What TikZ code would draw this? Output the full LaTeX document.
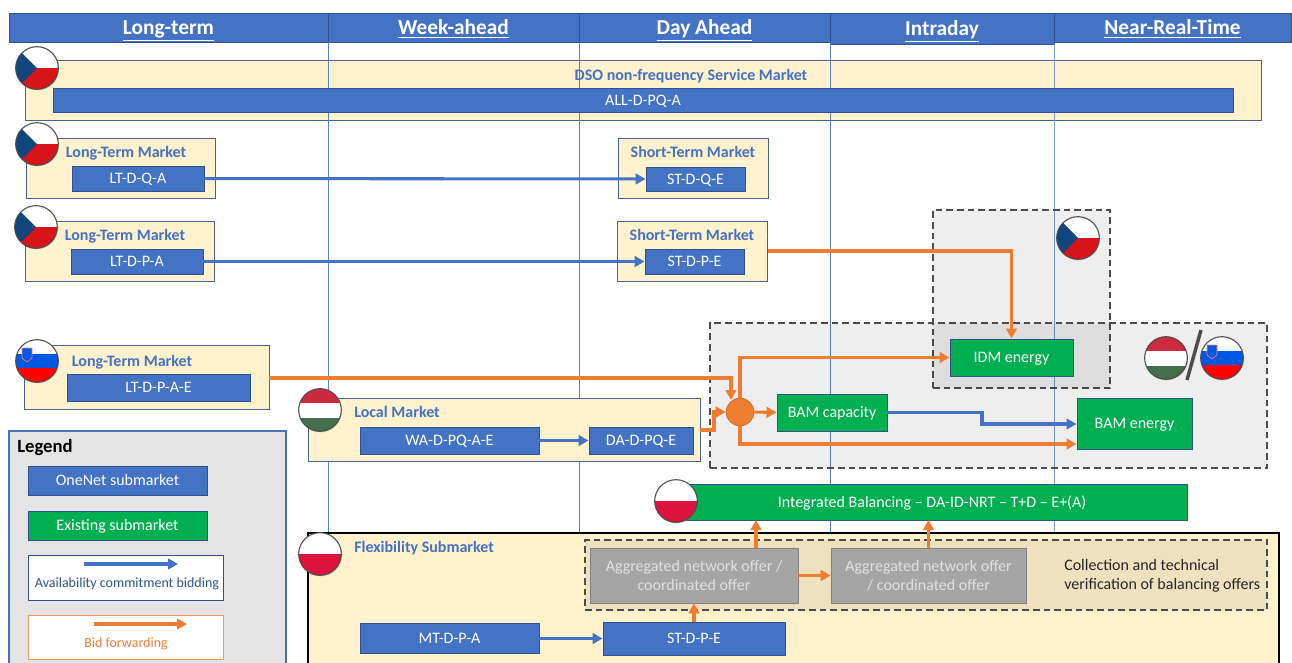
\documentclass[tikz,border=0pt]{standalone}
\usepackage{fontspec}
\setmainfont{Carlito}
\usetikzlibrary{arrows.meta,shadows}
\definecolor{onenetblue}{HTML}{4472C4}
\definecolor{edgeblue}{HTML}{2F528F}
\definecolor{existgreen}{HTML}{00B050}
\definecolor{bidorange}{HTML}{ED7D31}
\definecolor{marketyellow}{HTML}{FFF2CC}
\definecolor{offergray}{HTML}{A5A5A5}
\definecolor{legendgray}{HTML}{E4E4E4}
\definecolor{czblue}{HTML}{11457E}
\definecolor{czred}{HTML}{D7141A}
\definecolor{hured}{HTML}{CD2A3E}
\definecolor{hugreen}{HTML}{436F4D}
\definecolor{plred}{HTML}{DC143C}
\definecolor{siblue}{HTML}{0057E0}
\tikzset{wh/.style 2 args={minimum width=#1*0.75pt,minimum height=#2*0.75pt}}
\begin{document}
\begin{tikzpicture}[x=0.75pt,y=-0.75pt]
\tikzstyle{header}=[fill=onenetblue,draw=edgeblue,inner sep=0pt,text=white,text height=14pt,text depth=3pt,font=\fontsize{16}{18}\selectfont\bfseries]
\tikzstyle{market}=[fill=marketyellow,draw=edgeblue!90,line width=0.7pt,inner sep=0pt]
\tikzstyle{markettitle}=[inner sep=0pt,text=onenetblue,text height=10pt,text depth=2pt,font=\fontsize{12}{14}\selectfont\bfseries]
\tikzstyle{onenet}=[fill=onenetblue,draw=edgeblue,line width=0.7pt,inner sep=0pt,text=white,text height=10pt,text depth=2pt,font=\fontsize{12}{14}\selectfont]
\tikzstyle{existing}=[fill=existgreen,draw=edgeblue,line width=0.7pt,inner sep=0pt,text=white,text height=10pt,text depth=2pt,font=\fontsize{12}{14}\selectfont]
\tikzstyle{offer}=[fill=offergray,draw=gray,inner sep=0pt,text=white!88!black,align=center,font=\fontsize{12}{14.2}\selectfont]
\tikzstyle{region}=[draw=black!70,very thick,dash pattern=on 5pt off 3pt,inner sep=0pt]
\tikzstyle{flow}=[draw=onenetblue,line width=2.3pt,-{Triangle[length=7.5pt,width=8pt]}]
\tikzstyle{forward}=[draw=bidorange,line width=2.3pt,-{Triangle[length=7.5pt,width=8pt]}]
\tikzstyle{flag}=[circle,draw=black!70,thick,minimum size=32pt,inner sep=0pt,fill=white,drop shadow={opacity=0.3,shadow xshift=0.5pt,shadow yshift=-0.8pt}]
\tikzstyle{flagcz}=[flag,path picture={
    \fill[czred,shift={(path picture bounding box.center)}] (-30,0) rectangle (30,30);
    \fill[czblue,shift={(path picture bounding box.center)}] (-30,-30) -- (0,0) -- (-30,30) -- cycle;}]
\tikzstyle{flaghu}=[flag,path picture={
    \fill[hured,shift={(path picture bounding box.center)}] (-30,-30) rectangle (30,-7.5);
    \fill[hugreen,shift={(path picture bounding box.center)}] (-30,7.5) rectangle (30,30);}]
\tikzstyle{flagsi}=[flag,path picture={
    \fill[siblue,shift={(path picture bounding box.center)}] (-30,-7) rectangle (30,7);
    \fill[red,shift={(path picture bounding box.center)}] (-30,7) rectangle (30,30);
    \fill[siblue,draw=red!50!white,line width=0.5pt,shift={(path picture bounding box.center)}] (-15,-13) -- (-5,-13) -- (-5,-3) -- (-10,1) -- (-15,-3) -- cycle;}]
\tikzstyle{flagpl}=[flag,path picture={
    \fill[plred,shift={(path picture bounding box.center)}] (-30,0) rectangle (30,30);}]

\path[use as bounding box,clip] (0,0) rectangle (1292,662);

    % Time frames
    \node [header,wh={319}{29}] (long_term) at (168.5,27.5) {\underline{Long-term}};
    \node [header,wh={251}{29}] (week_ahead) at (453.5,27.5) {\underline{Week-ahead}};
    \node [header,wh={251}{29}] (day_ahead) at (704.5,27.5) {\underline{Day Ahead}};
    \node [header,wh={224}{31}] (intraday) at (942,28.5) {\underline{Intraday}};
    \node [header,wh={237}{29}] (near_rt) at (1172.5,27.5) {\underline{Near-Real-Time}};

    % DSO market, under the time lines
    \node [market,wh={1236}{60}] (dso) at (643,90) {};

    %Time lines
    \draw [onenetblue!90] (long_term.south east) -- (long_term.south east |- 0,670);
    \draw [onenetblue!90] (week_ahead.south east) -- (week_ahead.south east |- 0,670);
    \draw [onenetblue!90] (day_ahead.south east) -- (day_ahead.south east |- 0,670);
    \draw [onenetblue!70] (intraday.south east) -- (intraday.south east |- 0,670);

    \node [markettitle] (dso_title) at (691,75) {DSO non-frequency Service Market};
    \node [onenet,wh={1180}{24}] (all_d) at (643,100) {ALL-D-PQ-A};

    % Czech markets
    \node [market,wh={189}{60}] (lt_box1) at (120.5,168) {};
    \node [markettitle] (lt_title1) at (126,152) {Long-Term Market};
    \node [onenet,wh={132}{25}] (lt_dqa) at (138,178.5) {LT-D-Q-A};
    \node [market,wh={150}{60},right of=lt_box1,node distance=429.75pt] (st_box1) {};
    \node [markettitle] (st_title1) at (693,152) {Short-Term Market};
    \node [onenet,wh={99}{24}] (st_dqe) at (695.5,179) {ST-D-Q-E};

    \node [market,wh={189}{60}] (lt_box2) at (119.5,251) {};
    \node [markettitle] (lt_title2) at (125,235) {Long-Term Market};
    \node [onenet,wh={132}{25}] (lt_dpa) at (137,261.5) {LT-D-P-A};
    \node [market,wh={150}{60},right of=lt_box2,node distance=429.75pt] (st_box2) {};
    \node [markettitle] (st_title2) at (692,235) {Short-Term Market};
    \node [onenet,wh={99}{25}] (st_dpe) at (694.5,261.5) {ST-D-P-E};

    % Slovenian and Hungarian markets
    \node [market,wh={245}{64}] (lt_box3) at (146.5,377) {};
    \node [markettitle] (lt_title3) at (132,361) {Long-Term Market};
    \node [onenet,wh={183}{27}] (lt_dpae) at (158.5,387.5) {LT-D-P-A-E};

    \node [market,wh={392}{63}] (local_box) at (504,429.5) {};
    \node [markettitle,anchor=west] (local_title) at (354,412) {Local Market};
    \node [onenet,wh={179}{27}] (wa_d) at (449.5,440.5) {WA-D-PQ-A-E};
    \node [onenet,wh={104}{27}] (da_d) at (641,440.5) {DA-D-PQ-E};

    % Dashed regions
    \node [region,fill=black,fill opacity=0.065,text opacity=1,wh={177}{178}] (cz_region) at (1021.5,299) {};
    \node [region,fill=black,fill opacity=0.065,text opacity=1,wh={557}{145}] (bam_region) at (988.5,395.5) {};

    \node [existing,wh={123}{37}] (idm) at (1011.5,357.5) {IDM energy};
    \node [existing,wh={110}{37}] (bam_cap) at (832,412.5) {BAM capacity};
    \node [existing,wh={115}{51}] (bam_en) at (1134.5,423.5) {BAM energy};
    \node [circle,fill=bidorange,draw=bidorange!80!black,minimum size=21pt,inner sep=0pt] (hub) at (740,412) {};

    % Polish market
    \node [market,draw=black,line width=1pt,wh={971}{140}] (flex_box) at (793.5,603) {};
    \node [markettitle,anchor=west] (flex_title) at (354,547) {Flexibility Submarket};
    \node [region,fill=black,fill opacity=0.065,text opacity=1,wh={682}{70}] (collect) at (926,575) {};
    \node [offer,wh={208}{55}] (offer1) at (694,575.5) {Aggregated network offer /\\coordinated offer};
    \node [offer,wh={195}{55}] (offer2) at (928.5,575.5) {Aggregated network offer\\/ coordinated offer};
    \node [inner sep=0pt,anchor=west,align=left,text=black!85,font=\fontsize{12}{14.2}\selectfont] (collect_text) at (1064,575.5) {Collection and technical\\verification of balancing offers};
    \node [onenet,wh={179}{30}] (mt_d) at (449.5,638.5) {MT-D-P-A};
    \node [onenet,wh={182}{33}] (st_d) at (694,638.5) {ST-D-P-E};
    \node [existing,wh={510}{36}] (integrated) at (932,502) {Integrated Balancing -- DA-ID-NRT -- T+D -- E+(A)};

    % Legend
    \node [fill=legendgray,draw=onenetblue,thick,wh={277}{240}] (legend) at (147.5,551) {};
    \node [inner sep=0pt,anchor=west,font=\fontsize{14}{16}\selectfont\bfseries] (legend_title) at (17,448) {Legend};
    \node [onenet,wh={179}{29}] (leg_onenet) at (117.5,480.5) {OneNet submarket};
    \node [existing,wh={179}{29}] (leg_exist) at (117.5,525.5) {Existing submarket};
    \node [fill=white,draw=edgeblue,line width=0.7pt,wh={195}{45},inner sep=0pt] (leg_avail) at (125.5,577.5) {};
    \node [inner sep=0pt,text=edgeblue,font=\fontsize{10.5}{12}\selectfont] (leg_avail_text) at (127,583.5) {Availability commitment bidding};
    \node [fill=white,draw=bidorange!80,line width=0.7pt,wh={195}{44},inner sep=0pt] (leg_bid) at (125.5,637) {};
    \node [inner sep=0pt,text=bidorange,font=\fontsize{10.5}{12}\selectfont] (leg_bid_text) at (126,643.5) {Bid forwarding};
    \coordinate (avail_a) at (84,564);
    \coordinate (avail_b) at (178,564);
    \coordinate (bid_a) at (94,624);
    \coordinate (bid_b) at (187,624);
    \draw [flow] (avail_a) -- (avail_b);
    \draw [forward] (bid_a) -- (bid_b);

    %Availability commitment
    \path [flow] (lt_dqa) -- (st_dqe);
    \path [flow] (lt_dpa) -- (st_dpe);
    \path [flow] (wa_d) -- (da_d);
    \path [flow] (mt_d) -- (st_d);
    \coordinate (cap_bend) at (982,412.5);
    \coordinate (en_in) at (bam_en.west |- 0,424);
    \path [flow] (bam_cap.east) -- (cap_bend) |- (en_in);

    %Bid forwarding
    \coordinate (st_out) at (st_box2.east |- 0,251);
    \path [forward] (st_out) -| (idm.north);
    \coordinate (lt_out) at (lt_box3.east |- 0,378);
    \coordinate (hub_top) at (731,400);
    \path [forward] (lt_out) -| (hub_top);
    \coordinate (local_out) at (local_box.east |- 0,430);
    \coordinate (local_bend) at (714,412);
    \path [forward] (local_out) -| (local_bend) -- (hub.west);
    \path [forward] (hub.north) |- (idm.west);
    \path [forward] (hub.east) -- (bam_cap.west);
    \coordinate (en_low) at (bam_en.west |- 0,444);
    \path [forward] (hub.south) |- (en_low);
    \path [forward] (st_d.north) -- (offer1.south);
    \path [forward] (offer1.east) -- (offer2.west);
    \coordinate (int_a) at (756,520);
    \coordinate (int_b) at (928.5,520);
    \path [forward] (offer1.north -| int_a) -- (int_a);
    \path [forward] (offer2.north) -- (int_b);

    %Flags
    \node [flagcz] (flag_dso) at (37,68) {};
    \node [flagcz] (flag_lt1) at (37,144) {};
    \node [flagcz] (flag_lt2) at (36,227) {};
    \node [flagsi] (flag_lt3) at (37,361) {};
    \node [flaghu] (flag_local) at (320,410) {};
    \node [flagcz] (flag_idm) at (1078,238) {};
    \node [flaghu] (flag_bam1) at (1166,358) {};
    \node [flagsi] (flag_bam2) at (1222,358) {};
    \node [flagpl] (flag_int) at (676,501) {};
    \node [flagpl] (flag_flex) at (320,554) {};
    \coordinate (slash_a) at (1201,330);
    \coordinate (slash_b) at (1187,380);
    \draw [black!70,line width=2.6pt] (slash_a) -- (slash_b);
\end{tikzpicture}
\end{document}
